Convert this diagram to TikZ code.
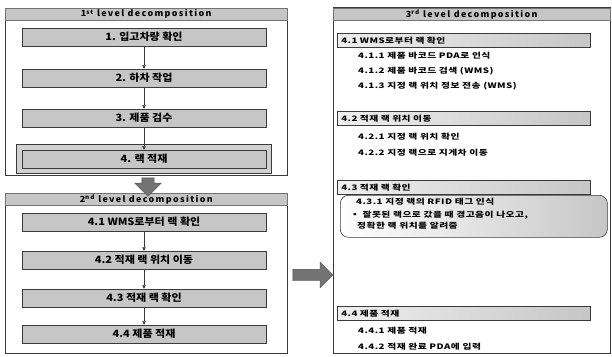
\documentclass[tikz,border=0pt]{standalone}
\usepackage{fontspec}
\setmainfont{Noto Sans CJK KR}
\newfontfamily\headfont{Noto Sans CJK KR}[LetterSpace=16, FakeStretch=1.05]
\newfontfamily\stepfont{Noto Sans CJK KR}[FakeStretch=1.1]
\newfontfamily\itemfont{Noto Sans CJK KR}[LetterSpace=6, FakeStretch=1.3]
\usepackage{xcolor}
\usepackage{tikz}
\usetikzlibrary{arrows.meta, positioning, calc, shapes.arrows, fit, backgrounds}
\definecolor{boxgray}{HTML}{c6c6c6}
\definecolor{lightgray}{HTML}{efefef}
\definecolor{framegray}{HTML}{3a3a3a}

\begin{document}
\begin{tikzpicture}[
    x=1pt, y=-1pt,
    panel/.style={
        rectangle, draw=framegray, line width=0.5pt,
        anchor=north west, inner sep=0pt,
    },
    header/.style={
        rectangle, draw=black!55,
        left color=boxgray, middle color=boxgray!60, right color=boxgray,
        minimum height=12pt, inner sep=0pt, anchor=north,
        font=\headfont\fontsize{8.5}{9}\selectfont\bfseries,
    },
    stepbox/.style={
        rectangle, draw=framegray, line width=0.5pt,
        left color=boxgray, middle color=lightgray, right color=boxgray,
        minimum width=244pt, minimum height=18pt, inner sep=0pt,
        font=\stepfont\fontsize{10}{11}\selectfont\bfseries,
    },
    subhead/.style={
        rectangle, draw=framegray, line width=0.5pt,
        left color=lightgray, right color=boxgray,
        text width=245pt, minimum height=14pt, inner xsep=4pt, inner ysep=0pt,
        anchor=north west, align=left,
        font=\itemfont\fontsize{7.5}{9}\selectfont\bfseries,
    },
    item/.style={
        anchor=west, inner sep=0pt,
        font=\itemfont\fontsize{7.5}{9.5}\selectfont\bfseries,
    },
    flow/.style={-{Triangle[length=3.5pt,width=3.5pt]}, line width=0.5pt, draw=framegray},
    bigarrow/.style={
        single arrow, draw=black!70, fill=black!55,
    },
]
\useasboundingbox (0,0) rectangle (612,356);

% ── 1st level ───────────────────────────────────────────────────────────────
\node[panel, minimum width=282pt, minimum height=167pt] (lvl1) at (5,8) {};
\node[header, minimum width=282pt] (h1) at (lvl1.north)
    {1\textsuperscript{st} level decomposition};

\node[stepbox] (s1) at (144,37)  {1. 입고차량 확인};
\node[stepbox] (s2) at (144,78)  {2. 하차 작업};
\node[stepbox] (s3) at (144,118) {3. 제품 검수};
\node[stepbox] (s4) at (144,159) {4. 랙 적재};

\begin{scope}[on background layer]
    \node[fit=(s4), inner xsep=5pt, inner ysep=5pt, draw=framegray,
          line width=1pt, fill=boxgray!80] (s4frame) {};
\end{scope}

\draw[flow] (s1) -- (s2);
\draw[flow] (s2) -- (s3);
\draw[flow] (s3) -- (s4);

% ── 2nd level ───────────────────────────────────────────────────────────────
\node[panel, minimum width=282pt, minimum height=160pt] (lvl2) at (5,193) {};
\node[header, minimum width=282pt] (h2) at (lvl2.north)
    {2\textsuperscript{nd} level decomposition};

\node[bigarrow, shape border rotate=270, inner sep=6pt,
      minimum height=18pt, minimum width=20pt] (down) at (148,184) {};

\node[stepbox] (t1) at (144,222) {4.1 WMS로부터 랙 확인};
\node[stepbox] (t2) at (144,260) {4.2 적재 랙 위치 이동};
\node[stepbox] (t3) at (144,298) {4.3 적재 랙 확인};
\node[stepbox] (t4) at (144,334) {4.4 제품 적재};

\draw[flow] (t1) -- (t2);
\draw[flow] (t2) -- (t3);
\draw[flow] (t3) -- (t4);

% ── arrow to 3rd level ──────────────────────────────────────────────────────
\node[bigarrow, inner sep=5.5pt, minimum height=40pt, minimum width=17pt]
    (right) at (310,275) {};

% ── 3rd level ───────────────────────────────────────────────────────────────
\node[panel, minimum width=277pt, minimum height=346pt] (lvl3) at (333,7) {};
\node[header, minimum width=277pt] (h3) at ($(lvl3.north)+(0,1)$)
    {3\textsuperscript{rd} level decomposition};

\node[subhead] (u1) at (337,33) {4.1 WMS로부터 랙 확인};
\node[item] (u11) at (358,56) {4.1.1 제품 바코드 PDA로 인식};
\node[item] (u12) at (358,71) {4.1.2 제품 바코드 검색 (WMS)};
\node[item] (u13) at (358,86) {4.1.3 지정 랙 위치 정보 전송 (WMS)};

\node[subhead] (u2) at (337,111) {4.2 적재 랙 위치 이동};
\node[item] (u21) at (358,137) {4.2.1 지정 랙 위치 확인};
\node[item] (u22) at (358,153) {4.2.2 지정 랙으로 지게차 이동};

\node[subhead] (u3) at (337,180) {4.3 적재 랙 확인};
\node[rectangle, rounded corners=8pt, draw=framegray, line width=0.6pt,
      left color=white, right color=boxgray, anchor=north west,
      minimum width=267pt, minimum height=42pt] (note) at (340,195) {};
\node[item] (u31) at (356,202) {4.3.1 지정 랙의 RFID 태그 인식};
\node[item] (u32) at (350,215) {▪ 잘못된 랙으로 갔을 때 경고음이 나오고,};
\node[item] (u33) at (357,226) {정확한 랙 위치를 알려줌};

\node[subhead] (u4) at (337,306) {4.4 제품 적재};
\node[item] (u41) at (358,331) {4.4.1 제품 적재};
\node[item] (u42) at (358,347) {4.4.2 적재 완료 PDA에 입력};

\end{tikzpicture}
\end{document}
